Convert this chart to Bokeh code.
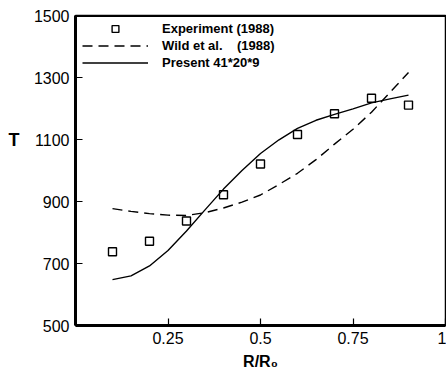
from bokeh.plotting import figure
from bokeh.models import Range1d, FixedTicker, Legend, LegendItem, Span, LinearAxis
from bokeh.embed import file_html
from bokeh.resources import INLINE

# Experimental data (squares)
exp_x = [0.1, 0.2, 0.3, 0.4, 0.5, 0.6, 0.7, 0.8, 0.9]
exp_T = [738, 772, 837, 922, 1021, 1116, 1183, 1233, 1211]

# Wild et al. (1988) dashed curve
wild_x = [0.1, 0.15, 0.2, 0.25, 0.3, 0.35, 0.4, 0.45, 0.5, 0.55, 0.6, 0.65, 0.7, 0.75, 0.8, 0.85, 0.9]
wild_T = [877, 868, 861, 856, 855, 864, 879, 898, 921, 955, 991, 1035, 1085, 1133, 1188, 1252, 1316]

# Present 41*20*9 solid curve
pres_x = [0.1, 0.15, 0.2, 0.25, 0.3, 0.35, 0.4, 0.45, 0.5, 0.55, 0.6, 0.65, 0.7, 0.75, 0.8, 0.85, 0.9]
pres_T = [648, 660, 692, 742, 805, 873, 940, 1000, 1055, 1099, 1136, 1162, 1181, 1199, 1218, 1231, 1243]

x_ticks = [0.25, 0.5, 0.75, 1.0]
x_tick_labels = ["0.25", "0.5", "0.75", "1"]
y_ticks = [500, 700, 900, 1100, 1300, 1500]
y_title = "T"
y_title_level = 1100

FONT = "Liberation Sans"

p = figure(width=446, height=372, output_backend="svg", toolbar_location=None,
           x_range=Range1d(0, 1), y_range=Range1d(500, 1500),
           min_border_left=75, min_border_right=1, min_border_top=15, min_border_bottom=46)
p.background_fill_color = "white"
p.border_fill_color = "white"
p.grid.visible = False
p.outline_line_color = "black"
p.outline_line_width = 1.5

# top thick border
p.add_layout(Span(location=1500, dimension="width", line_color="black", line_width=3))

for ax in (p.xaxis[0], p.yaxis[0]):
    ax.axis_line_width = 3
    ax.axis_line_color = "black"
    ax.major_tick_in = 7
    ax.major_tick_out = 0
    ax.minor_tick_in = 0
    ax.minor_tick_out = 0
    ax.major_tick_line_width = 1.2
    ax.major_label_text_font = FONT
    ax.major_label_text_font_size = "16px"
    ax.major_label_text_color = "black"
    ax.axis_label_text_font = FONT
    ax.axis_label_text_font_style = "bold"
    ax.axis_label_text_color = "black"

p.xaxis[0].ticker = FixedTicker(ticks=x_ticks)
p.xaxis[0].major_label_overrides = {t: l for t, l in zip(x_ticks, x_tick_labels)}
p.xaxis[0].major_label_standoff = 6
p.xaxis[0].axis_label = "R/R₀"
p.xaxis[0].axis_label_text_font_size = "16px"
p.xaxis[0].axis_label_standoff = 6

p.yaxis[0].ticker = FixedTicker(ticks=y_ticks)
p.yaxis[0].major_label_standoff = 6

# "T" axis title, level with the 1100 tick as in the reference (outer left axis)
t_axis = LinearAxis(ticker=FixedTicker(ticks=[y_title_level]),
                    major_label_overrides={y_title_level: y_title})
t_axis.axis_line_color = None
t_axis.major_tick_line_color = None
t_axis.minor_tick_line_color = None
t_axis.major_tick_in = 0
t_axis.major_tick_out = 0
t_axis.minor_tick_in = 0
t_axis.minor_tick_out = 0
t_axis.major_label_standoff = 11
t_axis.major_label_text_font = FONT
t_axis.major_label_text_font_style = "bold"
t_axis.major_label_text_font_size = "18px"
t_axis.major_label_text_color = "black"
p.add_layout(t_axis, "left")

r_exp = p.scatter(exp_x, exp_T, marker="square", size=8, fill_color="white",
                  line_color="black", line_width=1.4)
r_wild = p.line(wild_x, wild_T, line_color="black", line_width=1.4, line_dash="10 6")
r_pres = p.line(pres_x, pres_T, line_color="black", line_width=1.4)

legend = Legend(items=[
    LegendItem(label="Experiment (1988)", renderers=[r_exp]),
    LegendItem(label="Wild et al.    (1988)", renderers=[r_wild]),
    LegendItem(label="Present 41*20*9", renderers=[r_pres]),
], location=(7, 254))
legend.border_line_color = None
legend.background_fill_alpha = 0
legend.padding = 4
legend.margin = 0
legend.spacing = 0
legend.glyph_width = 66
legend.glyph_height = 17
legend.label_height = 17
legend.label_standoff = 14
legend.label_text_font = FONT
legend.label_text_font_style = "bold"
legend.label_text_font_size = "13px"
legend.label_text_color = "black"
p.add_layout(legend)

open("out.html", "w").write(file_html(p, INLINE))
